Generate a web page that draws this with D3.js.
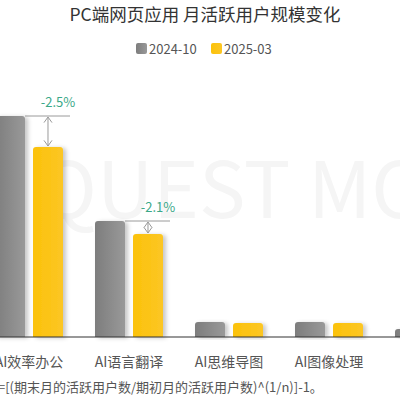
<!DOCTYPE html>
<html>
<head>
<meta charset="utf-8">
<script src="https://cdn.jsdelivr.net/npm/d3@7/dist/d3.min.js"></script>
<style>
  html, body { margin: 0; padding: 0; background: #fff; }
  svg { display: block; }
  text { font-family: "Noto Sans CJK SC", "Noto Sans", sans-serif; }
</style>
</head>
<body>
<svg id="chart" width="400" height="400"></svg>
<script>
// Monthly active users of PC web AI apps (relative units)
const categories = ["AI效率办公", "AI语言翻译", "AI思维导图", "AI图像处理", "AI写作"];
const seriesNames = ["2024-10", "2025-03"];
const users202410 = [221, 116, 15, 15, 8];
const users202503 = [190, 103, 14, 14, 6];
const growthLabels = ["-2.5%", "-2.1%"];   // shown for the first two categories
const titleText = "PC端网页应用 月活跃用户规模变化";
const footnoteText = "=[(期末月的活跃用户数/期初月的活跃用户数)^(1/n)]-1。";
const watermarkText = "QUEST MOBILE";

const svg = d3.select("#chart");
const baseY = 337;

const rows = categories.map((c, i) => ({ cat: c, vals: [users202410[i], users202503[i]] }));

const x0 = d3.scaleBand().domain(categories).range([-21, 479]).paddingInner(0.32).paddingOuter(0.16);
const x1 = d3.scaleBand().domain(seriesNames).range([0, x0.bandwidth()]).paddingInner(0.2105);
const y = d3.scaleLinear().domain([0, 250]).range([baseY, baseY - 250]);

// defs: bar shading and soft shadow
const defs = svg.append("defs");
const shadow = defs.append("filter").attr("id", "shadow").attr("x", "-20%").attr("y", "-20%").attr("width", "160%").attr("height", "140%");
shadow.append("feDropShadow").attr("dx", 3).attr("dy", 1).attr("stdDeviation", 2)
  .attr("flood-color", "#000").attr("flood-opacity", 0.22);
const gGray = defs.append("linearGradient").attr("id", "gradGray").attr("x1", 0).attr("x2", 1);
gGray.append("stop").attr("offset", "0%").attr("stop-color", "#7d7d7d");
gGray.append("stop").attr("offset", "100%").attr("stop-color", "#999999");
const gYel = defs.append("linearGradient").attr("id", "gradYel").attr("x1", 0).attr("x2", 1);
gYel.append("stop").attr("offset", "0%").attr("stop-color", "#fbc20a");
gYel.append("stop").attr("offset", "100%").attr("stop-color", "#fcc624");
const fills = ["url(#gradGray)", "url(#gradYel)"];

// watermark
svg.append("text")
  .attr("x", 39).attr("y", 218)
  .attr("font-family", "'Noto Sans', sans-serif")
  .attr("font-size", 78)
  .attr("fill", "#f5f5f5")
  .text(watermarkText);

// title
svg.append("text")
  .attr("x", 205).attr("y", 21)
  .attr("text-anchor", "middle")
  .attr("font-size", 17.5)
  .attr("fill", "#333")
  .text(titleText);

// legend
const legend = svg.append("g");
const legendX = [136, 211];
seriesNames.forEach((s, i) => {
  legend.append("rect")
    .attr("x", legendX[i]).attr("y", 43).attr("width", 11).attr("height", 11).attr("rx", 2)
    .attr("fill", fills[i]);
  legend.append("text")
    .attr("x", legendX[i] + 13).attr("y", 54)
    .attr("font-size", 13).attr("fill", "#555")
    .text(s);
});

// bars with rounded tops
function topRounded(x, yTop, w, h, r) {
  r = Math.min(r, h, w / 2);
  return `M${x},${yTop + h} V${yTop + r} Q${x},${yTop} ${x + r},${yTop} H${x + w - r} Q${x + w},${yTop} ${x + w},${yTop + r} V${yTop + h} Z`;
}
const groups = svg.append("g").selectAll("g").data(rows).join("g")
  .attr("transform", d => `translate(${x0(d.cat)},0)`);
groups.selectAll("path").data(d => d.vals.map((v, i) => ({ v, i }))).join("path")
  .attr("filter", "url(#shadow)")
  .attr("fill", d => fills[d.i])
  .attr("d", d => topRounded(x1(seriesNames[d.i]), y(d.v), x1.bandwidth(), baseY - y(d.v), 3));

// baseline axis
const xAxis = d3.axisBottom(x0).tickSize(0).tickPadding(0);
const axisG = svg.append("g").attr("transform", `translate(0,${baseY})`).call(xAxis);
axisG.select(".domain").attr("stroke", "#333").attr("stroke-width", 1.2).attr("d", "M0,0H400");
axisG.selectAll("text")
  .attr("y", 30)
  .attr("dy", 0)
  .attr("font-size", 14)
  .attr("font-family", "'Noto Sans CJK SC', sans-serif")
  .attr("fill", "#555");

// change annotations
const ann = svg.append("g");
growthLabels.forEach((lab, i) => {
  const c = categories[i];
  const gx = x0(c);
  const grayRight = gx + x1(seriesNames[0]) + x1.bandwidth();
  const yelL = gx + x1(seriesNames[1]);
  const yelC = yelL + x1.bandwidth() / 2;
  const yelR = yelL + x1.bandwidth();
  const yTop = y(users202410[i]);
  const yLow = y(users202503[i]);
  ann.append("line")
    .attr("x1", grayRight).attr("x2", yelR + 7)
    .attr("y1", yTop).attr("y2", yTop)
    .attr("stroke", "#9a9a9a").attr("stroke-width", 1);
  ann.append("line")
    .attr("x1", yelC).attr("x2", yelC)
    .attr("y1", yTop + 1).attr("y2", yLow - 1)
    .attr("stroke", "#9a9a9a").attr("stroke-width", 1);
  const a = 4;
  ann.append("path")
    .attr("d", `M${yelC - a},${yTop + 1 + a * 1.4} L${yelC},${yTop + 1} L${yelC + a},${yTop + 1 + a * 1.4}
                M${yelC - a},${yLow - 1 - a * 1.4} L${yelC},${yLow - 1} L${yelC + a},${yLow - 1 - a * 1.4}`)
    .attr("fill", "none").attr("stroke", "#9a9a9a").attr("stroke-width", 1);
  ann.append("text")
    .attr("x", yelC + 10).attr("y", yTop - 9)
    .attr("text-anchor", "middle")
    .attr("font-size", 13).attr("fill", "#3aa888")
    .text(lab);
});

// footnote
svg.append("text")
  .attr("x", -2).attr("y", 392)
  .attr("font-size", 13).attr("fill", "#555")
  .text(footnoteText);
</script>
</body>
</html>
